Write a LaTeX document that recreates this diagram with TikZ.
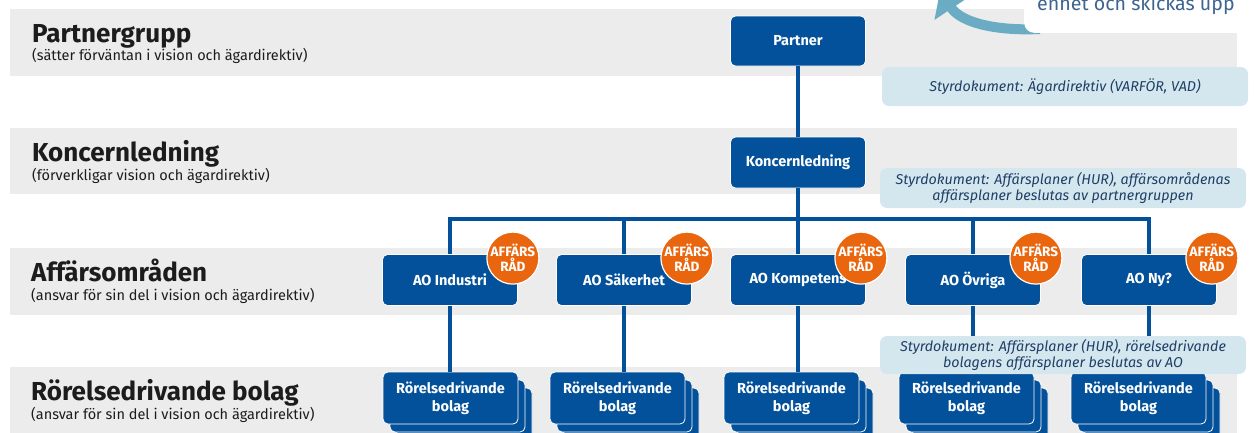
\documentclass[tikz,border=0pt]{standalone}
\usepackage{fontspec}
\setmainfont{Fira Sans}
\usetikzlibrary{positioning,shadows,arrows.meta}

\definecolor{aoblue}{HTML}{03519A}
\definecolor{bandgray}{HTML}{ECECEC}
\definecolor{notefill}{HTML}{D5E7EE}
\definecolor{notetext}{HTML}{1F3F66}
\definecolor{radorange}{HTML}{EA660E}
\definecolor{arrowteal}{HTML}{6AACC3}
\definecolor{calltext}{HTML}{3E6592}
\definecolor{titletext}{HTML}{1C1C1C}

\tikzset{
  band/.style={fill=bandgray},
  orgbox/.style={rectangle, rounded corners=5pt, fill=aoblue, draw=white, line width=0.8pt,
    text=white, font=\bfseries\fontsize{14.5}{18}\selectfont, align=center,
    minimum width=135pt, minimum height=51pt, inner sep=0pt},
  bolagbox/.style={orgbox, minimum height=52pt,
    copy shadow={shadow xshift=14pt, shadow yshift=-16pt, fill=aoblue, draw=white, line width=0.8pt},
    copy shadow={shadow xshift=7pt, shadow yshift=-8pt, fill=aoblue, draw=white, line width=0.8pt}},
  radcircle/.style={circle, fill=radorange, draw=white, line width=1.2pt, minimum size=52pt,
    inner sep=0pt, text=white, align=center, font=\bfseries\fontsize{13.5}{15}\selectfont},
  note/.style={rectangle, rounded corners=7pt, fill=notefill, text=notetext, align=center,
    font=\itshape\fontsize{14.3}{16}\selectfont, minimum width=366pt, inner sep=0pt},
  conn/.style={draw=aoblue, line width=4pt},
  leveltitle/.style={anchor=base west, inner sep=0pt, text=titletext,
    font=\bfseries\fontsize{26}{30}\selectfont},
  levelsub/.style={anchor=base west, inner sep=0pt, text=titletext,
    font=\fontsize{14.5}{18}\selectfont},
}

\begin{document}
\begin{tikzpicture}[x=1pt,y=-1pt]
  \useasboundingbox (0,0) rectangle (1258,432);
  \clip (0,0) rectangle (1258,432);

  % gray level bands
  \fill[band] (10,9) rectangle (1237,76);
  \fill[band] (10,128) rectangle (1237,194);
  \fill[band] (10,248) rectangle (1237,315);
  \fill[band] (10,367) rectangle (1237,440);

  % level titles
  \node[leveltitle] (tpartner) at (32,42) {Partnergrupp};
  \node[levelsub] (spartner) at (32,60) {(sätter förväntan i vision och ägardirektiv)};
  \node[leveltitle] (tkoncern) at (32,161) {Koncernledning};
  \node[levelsub] (skoncern) at (32,180) {(förverkligar vision och ägardirektiv)};
  \node[leveltitle] (tao) at (31,281) {Affärsområden};
  \node[levelsub] (sao) at (31,300) {(ansvar för sin del i vision och ägardirektiv)};
  \node[leveltitle] (trb) at (31,400) {Rörelsedrivande bolag};
  \node[levelsub] (srb) at (31,419) {(ansvar för sin del i vision och ägardirektiv)};

  % callout top right
  \draw[line width=10pt, arrowteal, -{Triangle[length=21pt, width=40pt]}]
    (1040,29) .. controls (1000,31) and (962,24) .. (940,-9);
  \node[fill=white, rounded corners=10pt, minimum width=228pt, minimum height=70pt,
    anchor=south west, inner sep=0pt] (callbox) at (1024,33) {};
  \node[anchor=base west, inner sep=0pt, text=calltext, font=\fontsize{19.6}{22}\selectfont]
    (calltxt) at (1037,10) {enhet och skickas upp};

  % organisation boxes
  \node[orgbox, minimum height=50pt] (partner) at (798,41) {Partner};
  \node[orgbox] (koncern) at (798,162.5) {Koncernledning};

  \node[orgbox] (ao1) at (450,280) {AO Industri};
  \node[orgbox] (ao2) at (624,280) {AO Säkerhet};
  \node[orgbox] (ao3) at (798,280) {AO Kompetens};
  \node[orgbox] (ao4) at (973,280) {AO Övriga};
  \node[orgbox] (ao5) at (1149,280) {AO Ny?};

  \node[bolagbox] (rb1) at (450.5,398) {Rörelsedrivande\\bolag};
  \node[bolagbox] (rb2) at (617.5,398) {Rörelsedrivande\\bolag};
  \node[bolagbox] (rb3) at (791.5,398) {Rörelsedrivande\\bolag};
  \node[bolagbox] (rb4) at (966.5,398) {Rörelsedrivande\\bolag};
  \node[bolagbox] (rb5) at (1138.5,398) {Rörelsedrivande\\bolag};

  % connectors
  \coordinate (bus) at (0,219);
  \draw[conn] (partner.south) -- (koncern.north);
  \draw[conn] (koncern.south) -- (koncern.south |- bus);
  \draw[conn] (ao1.north) |- (ao5.north |- bus) -- (ao5.north);
  \foreach \i in {2,3,4}
    \draw[conn] (ao\i.north) -- (ao\i.north |- bus);
  \foreach \i in {1,...,5}
    \draw[conn] (ao\i.south) -- (ao\i.south |- rb\i.north);

  % affärsråd badges
  \foreach \i in {1,...,5}
    \node[radcircle] (rad\i) at ([shift={(-5pt,-4pt)}]ao\i.north east) {AFFÄRS\\RÅD};

  % governing documents
  \node[note, minimum height=39pt] (note1) at (1065,86.5)
    {Styrdokument: Ägardirektiv (VARFÖR, VAD)};
  \node[note, minimum height=40pt] (note2) at (1063,188)
    {Styrdokument: Affärsplaner (HUR), affärsområdenas\\affärsplaner beslutas av partnergruppen};
  \node[note, minimum height=38pt] (note3) at (1063,355)
    {Styrdokument: Affärsplaner (HUR), rörelsedrivande\\bolagens affärsplaner beslutas av AO};
\end{tikzpicture}
\end{document}
